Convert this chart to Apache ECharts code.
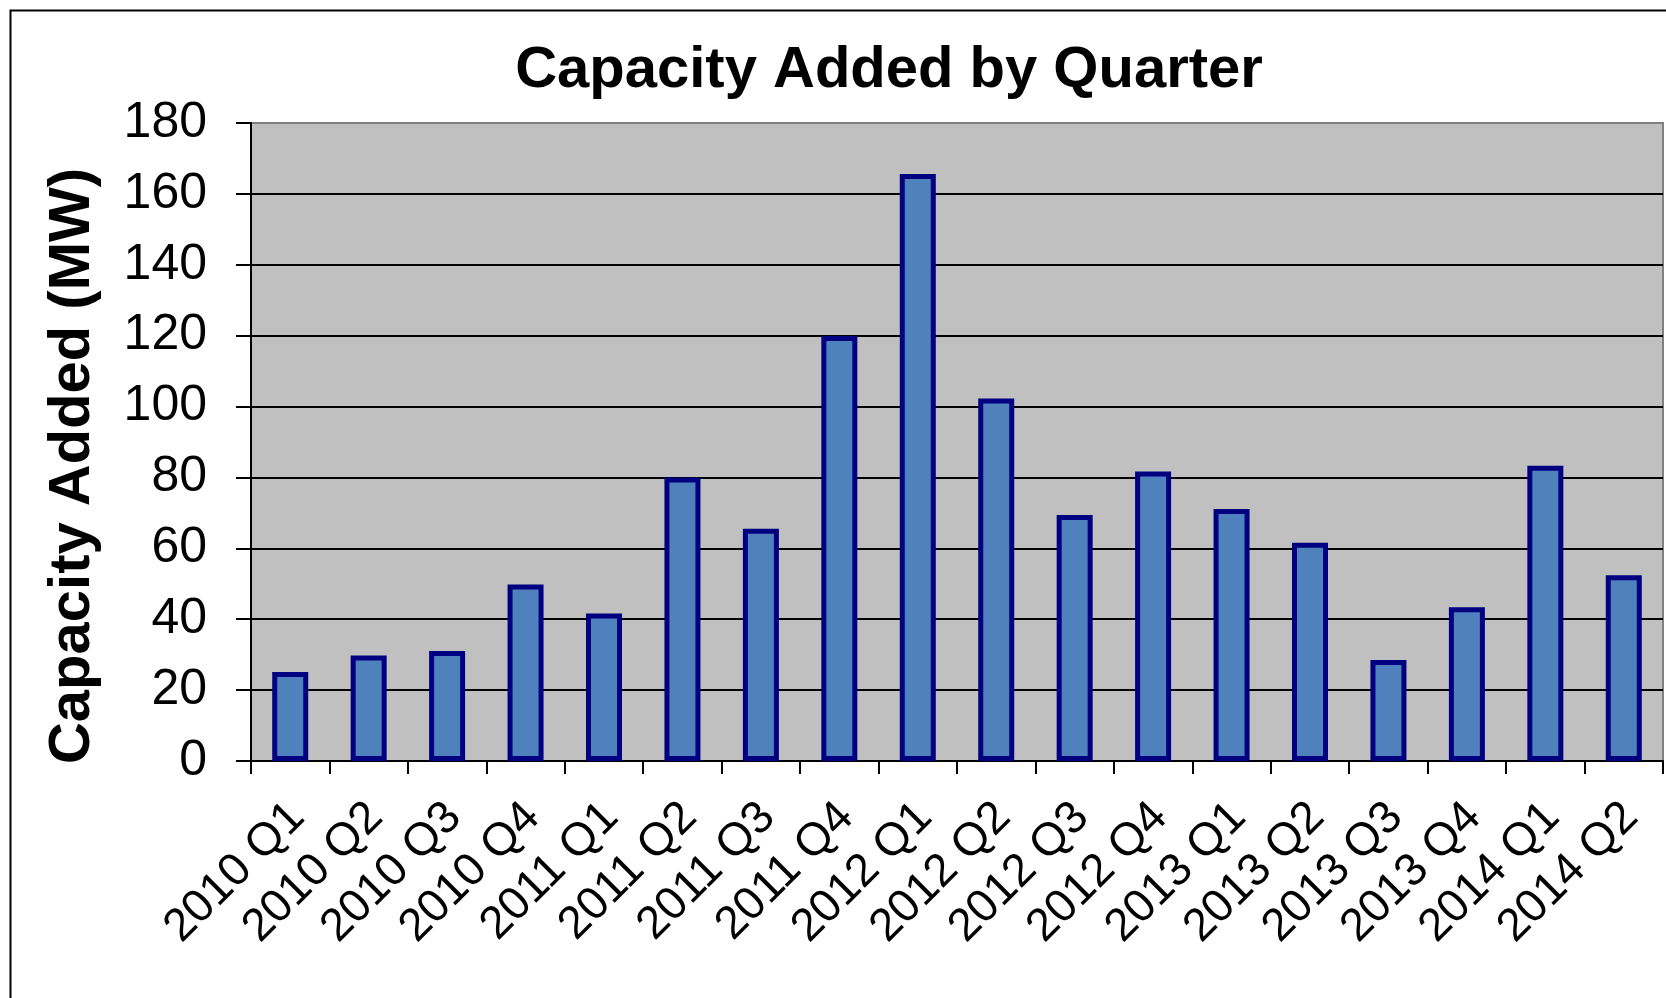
<!DOCTYPE html>
<html>
<head>
<meta charset="utf-8">
<script src="https://cdn.jsdelivr.net/npm/echarts@6/dist/echarts.min.js"></script>
<style>
html,body{margin:0;padding:0;background:#fff;}
#chart{width:1666px;height:998px;}
</style>
</head>
<body>
<div id="chart"></div>
<script>
var titleText = 'Capacity Added by Quarter';
var yAxisTitle = 'Capacity Added (MW)';
var categories = ['2010 Q1','2010 Q2','2010 Q3','2010 Q4','2011 Q1','2011 Q2','2011 Q3','2011 Q4','2012 Q1','2012 Q2','2012 Q3','2012 Q4','2013 Q1','2013 Q2','2013 Q3','2013 Q4','2014 Q1','2014 Q2'];
var capacityMW = [25.1, 29.8, 31.0, 49.8, 41.6, 80.0, 65.5, 119.9, 165.6, 102.3, 69.4, 81.7, 71.1, 61.6, 28.5, 43.4, 83.3, 52.4];
var yMin = 0, yMax = 180, yStep = 20;

var FONT = '"Liberation Sans", Arial, sans-serif';
var chart = echarts.init(document.getElementById('chart'), null, {renderer: 'canvas'});
chart.setOption({
  backgroundColor: '#ffffff',
  animation: false,
  title: {
    text: titleText,
    left: 884,
    top: 37,
    textAlign: 'center',
    textStyle: {fontFamily: FONT, fontSize: 58, fontWeight: 'bold', color: '#000'}
  },
  graphic: [
    {type: 'rect', left: 8, top: 8, shape: {x: 0, y: 0, width: 2000, height: 2000},
     style: {fill: 'none', stroke: '#000', lineWidth: 2}, silent: true, z: -10},
    {type: 'text', x: 73, y: 466, rotation: Math.PI / 2,
     style: {text: yAxisTitle, fontFamily: FONT, fontSize: 58, fontWeight: 'bold', fill: '#000',
             textAlign: 'center', textVerticalAlign: 'middle'}}
  ],
  grid: {
    left: 251, top: 123, right: 3, bottom: 237,
    show: true, backgroundColor: '#C0C0C0', borderColor: '#808080', borderWidth: 2,
    containLabel: false
  },
  xAxis: {
    type: 'category',
    data: categories,
    boundaryGap: true,
    axisLine: {show: true, lineStyle: {color: '#000', width: 2}},
    axisTick: {show: true, alignWithLabel: false, interval: 0, length: 13, lineStyle: {color: '#000', width: 2}},
    axisLabel: {interval: 0, rotate: 45, align: 'right', verticalAlign: 'top', lineHeight: 20, margin: 42,
                fontFamily: FONT, fontSize: 46, color: '#000'},
    splitLine: {show: false}
  },
  yAxis: {
    type: 'value',
    min: yMin, max: yMax, interval: yStep,
    axisLine: {show: true, lineStyle: {color: '#000', width: 2}},
    axisTick: {show: true, inside: false, length: 15, lineStyle: {color: '#000', width: 2}},
    axisLabel: {margin: 44, fontFamily: FONT, fontSize: 50, color: '#000'},
    splitLine: {show: true, showMaxLine: false, lineStyle: {color: '#000', width: 2}}
  },
  series: [{
    type: 'bar',
    data: capacityMW,
    barWidth: 36,
    itemStyle: {color: '#4F81BD', borderColor: '#000080', borderWidth: 5},
    emphasis: {disabled: true}
  }]
});
</script>
</body>
</html>
